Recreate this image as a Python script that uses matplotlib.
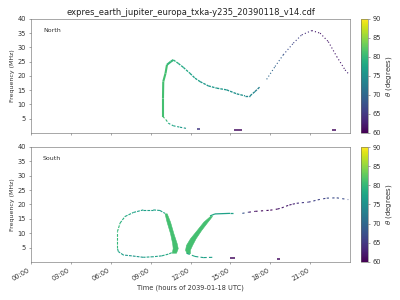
import matplotlib
matplotlib.use("Agg")
import matplotlib.pyplot as plt
import numpy as np
from matplotlib.collections import LineCollection
from matplotlib.colors import Normalize
from matplotlib.cm import ScalarMappable

# time in hours of 2039-01-18 UTC, frequency in MHz, theta in degrees

# ---- North ----
n_rise_t = [9.93, 9.93, 9.95, 10.12, 10.23, 10.52, 10.71]
n_rise_f = [5.7, 12.0, 18.0, 20.9, 23.9, 25.0, 25.6]
n_rise_th = [81, 81, 81, 81, 80, 80, 79]

n_fall_t = [10.71, 11.08, 11.46, 11.96, 12.34, 12.72, 13.34, 13.97, 14.72, 15.48, 16.1, 16.48, 16.85, 17.23]
n_fall_f = [25.6, 24.4, 23.0, 20.9, 19.2, 18.0, 16.5, 15.7, 15.1, 13.7, 13.0, 13.0, 14.5, 16.2]
n_fall_th = [79, 78, 78, 77, 77, 76, 76, 76, 75, 75, 74, 74, 73, 72]

n_far_t = [17.73, 18.36, 18.98, 19.74, 20.37, 21.12, 21.75, 22.37, 23.0, 23.63, 23.95]
n_far_f = [18.8, 23.3, 27.4, 31.5, 34.4, 35.9, 35.0, 32.0, 26.8, 22.1, 20.4]
n_far_th = [70, 69, 67, 66, 64, 62, 62, 62, 62, 63, 63]

n_low_t = [9.93, 10.16, 10.33, 10.71, 11.21, 11.66]
n_low_f = [5.7, 4.6, 3.4, 2.5, 2.0, 1.6]
n_low_th = [81, 80, 78, 77, 76, 76]

n_bit_t0 = [12.47, 15.3, 22.63]
n_bit_t1 = [12.7, 15.85, 22.93]
n_bit_f = [1.4, 1.05, 1.05]
n_bit_th = [65, 61, 61]

# ---- South ----
s_loop1_t = [10.59, 10.33, 9.83, 9.2, 8.45, 7.58, 6.95, 6.57, 6.5, 6.5, 6.7, 7.07, 7.7, 8.45, 9.2, 9.7, 10.08]
s_loop1_f = [3.2, 2.7, 2.1, 1.8, 1.6, 2.1, 2.4, 3.6, 4.8, 10.5, 13.5, 15.8, 17.2, 18.1, 18.1, 17.9, 16.9]
s_loop1_th = [79, 78, 77, 77, 76, 76, 77, 78, 80, 80, 79, 78, 77, 77, 77, 77, 78]

s_band1_f = [16.9, 14.0, 10.0, 6.5, 4.8, 3.2]
s_band1_t0 = [10.05, 10.2, 10.46, 10.62, 10.66, 10.59]
s_band1_t1 = [10.21, 10.46, 10.71, 10.96, 11.04, 10.91]

s_band2_f = [16.0, 14.0, 11.1, 8.2, 5.9, 4.2, 3.0]
s_band2_t0 = [13.47, 12.97, 12.47, 11.96, 11.66, 11.59, 11.71]
s_band2_t1 = [13.62, 13.28, 12.8, 12.38, 12.12, 11.95, 11.95]
band_th = 81

s_top_t = [13.47, 13.84, 14.97, 15.2]
s_top_f = [16.0, 16.7, 16.9, 16.9]
s_top_th = [78, 77, 77, 76]

s_far_t = [15.9, 16.38, 16.88, 18.0, 18.55, 18.86, 19.19, 19.44, 19.69, 19.99, 20.37, 20.87, 21.24, 21.57, 22.25, 23.0, 23.87]
s_far_f = [16.9, 17.3, 17.6, 18.0, 18.4, 18.8, 19.4, 19.8, 20.1, 20.4, 20.6, 20.8, 21.2, 21.6, 22.2, 22.3, 21.7]
s_far_th = [68, 62, 61, 61, 62, 62, 62, 62, 63, 64, 65, 65, 66, 66, 67, 67, 67]

s_low_t = [11.71, 12.34, 12.97, 13.72]
s_low_f = [3.0, 1.9, 1.5, 1.6]
s_low_th = [78, 77, 77, 76]

s_bit_t0 = [14.97, 18.49]
s_bit_t1 = [15.35, 18.74]
s_bit_f = [1.3, 1.0]
s_bit_th = [61, 61]

xtick_hours = [0, 3, 6, 9, 12, 15, 18, 21]
xtick_labels = ['00:00', '03:00', '06:00', '09:00', '12:00', '15:00', '18:00', '21:00']

cmap = plt.get_cmap('viridis')
norm = Normalize(vmin=60, vmax=90)
txt = '#333333'
edge = '#666666'


def track(ax, t, f, th, lw, ls='-'):
    pts = np.column_stack([t, f])
    segs = np.stack([pts[:-1], pts[1:]], axis=1)
    lc = LineCollection(segs, cmap=cmap, norm=norm, linewidths=lw, linestyles=ls)
    lc.set_array(np.asarray(th[:-1], dtype=float))
    ax.add_collection(lc)


def bits(ax, t0, t1, f, th):
    ax.hlines(f, t0, t1, colors=cmap(norm(th)), linewidth=2.2)


fig = plt.figure(figsize=(8, 6), dpi=50)
ax1 = fig.add_axes([0.0775, 0.557, 0.7975, 0.38])
ax2 = fig.add_axes([0.0775, 0.127, 0.7975, 0.383])
cax1 = fig.add_axes([0.9025, 0.557, 0.0175, 0.38])
cax2 = fig.add_axes([0.9025, 0.127, 0.0175, 0.383])

# North
track(ax1, n_rise_t, n_rise_f, n_rise_th, 3.0)
track(ax1, n_fall_t, n_fall_f, n_fall_th, 1.9, (0, (2, 0.8)))
track(ax1, n_far_t, n_far_f, n_far_th, 1.6, (0, (1, 2)))
track(ax1, n_low_t, n_low_f, n_low_th, 1.6, (0, (2, 1.5)))
bits(ax1, n_bit_t0, n_bit_t1, n_bit_f, n_bit_th)

# South
track(ax2, s_loop1_t, s_loop1_f, s_loop1_th, 1.6, (0, (2.5, 1)))
ax2.fill_betweenx(s_band1_f, s_band1_t0, s_band1_t1, color=cmap(norm(band_th)), lw=0.8,
                  edgecolor=cmap(norm(band_th)))
ax2.fill_betweenx(s_band2_f, s_band2_t0, s_band2_t1, color=cmap(norm(band_th)), lw=0.8,
                  edgecolor=cmap(norm(band_th)))
track(ax2, s_top_t, s_top_f, s_top_th, 1.8)
track(ax2, s_far_t, s_far_f, s_far_th, 1.6, (0, (2, 3)))
track(ax2, s_low_t, s_low_f, s_low_th, 1.6, (0, (3, 2)))
bits(ax2, s_bit_t0, s_bit_t1, s_bit_f, s_bit_th)

for ax, name in [(ax1, 'North'), (ax2, 'South')]:
    ax.set_xlim(0, 24)
    ax.set_ylim(0, 40)
    ax.set_yticks([5, 10, 15, 20, 25, 30, 35, 40])
    ax.set_xticks(xtick_hours)
    ax.set_ylabel('Frequency (MHz)', fontsize=9, color=txt)
    ax.tick_params(labelsize=9.5, colors=edge, labelcolor=txt, length=3.5)
    for sp in ax.spines.values():
        sp.set_edgecolor(edge)
    ax.text(0.038, 0.9, name, transform=ax.transAxes, fontsize=9, color=txt, va='center')

ax1.set_xticklabels([])
ax2.set_xticklabels(xtick_labels, rotation=30, ha='right')
ax2.set_xlabel('Time (hours of 2039-01-18 UTC)', fontsize=9.5, color=txt)
ax1.set_title('expres_earth_jupiter_europa_txka-y235_20390118_v14.cdf', fontsize=12, color='#222222')

for cax in (cax1, cax2):
    cb = fig.colorbar(ScalarMappable(norm=norm, cmap=cmap), cax=cax)
    cb.set_ticks([60, 65, 70, 75, 80, 85, 90])
    cb.ax.tick_params(labelsize=9.5, colors=edge, labelcolor=txt, length=3.5)
    cb.outline.set_edgecolor(edge)
    cb.set_label(r'$\theta$ (degrees)', fontsize=10, color=txt)

fig.savefig('out.png', dpi=50)
